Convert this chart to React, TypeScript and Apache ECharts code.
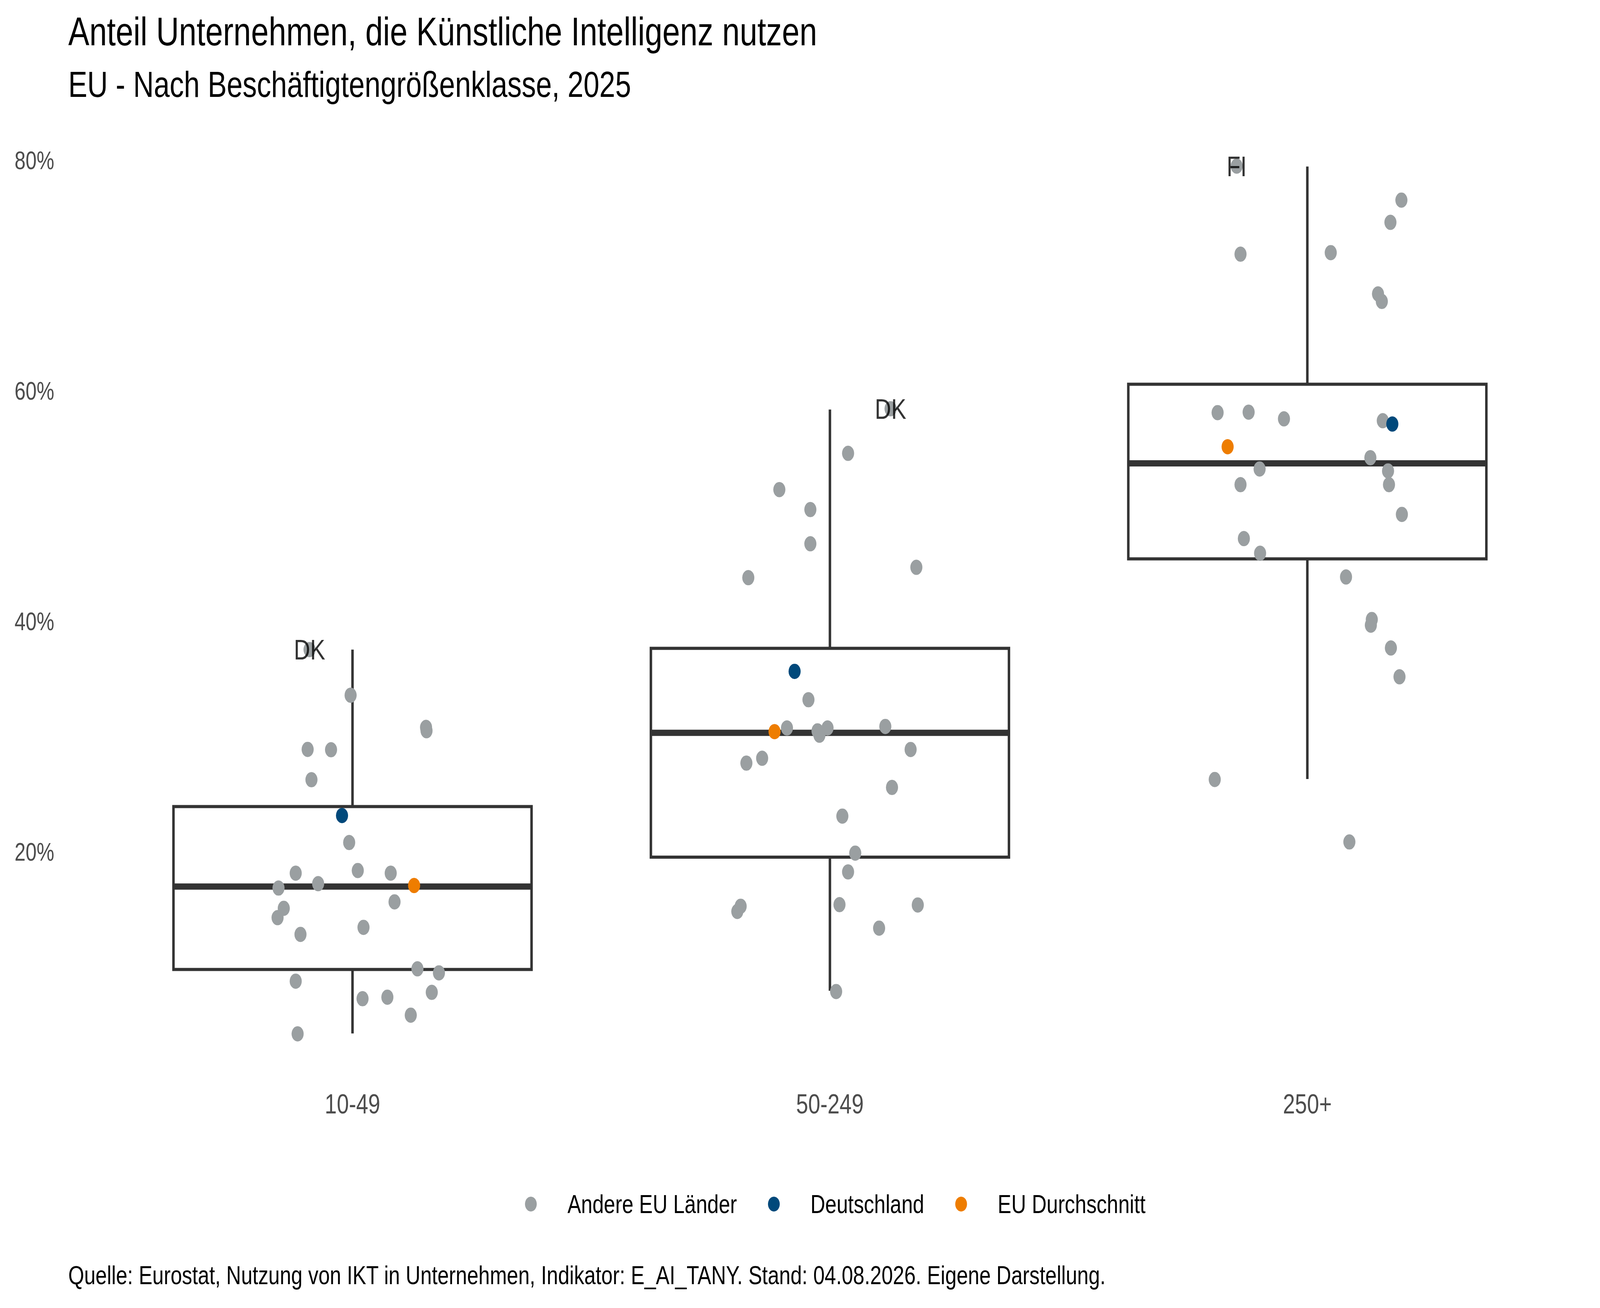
import React, { useEffect, useRef, useState } from "react";
import * as echarts from "echarts";

const W = 5160;
const H = 3348;
const FONT = "Liberation Sans, Arial, Helvetica, sans-serif";

// ---- data (percent) ----
const categories = ["10-49", "50-249", "250+"];

// box statistics
const boxMin = [4.26, 7.97, 26.34];
const boxQ1 = [9.81, 19.56, 45.44];
const boxMedian = [17.01, 30.35, 53.73];
const boxQ3 = [23.95, 37.68, 60.59];
const boxMax = [37.57, 58.4, 79.48];

// other EU countries: values and horizontal jitter (category units)
const other1049 = [37.57, 33.61, 30.82, 30.53, 28.91, 28.88, 26.28, 20.83, 18.17, 18.4, 18.17, 17.26, 16.88, 15.68, 15.12, 14.31, 13.47, 12.86, 9.87, 9.52, 8.8, 7.83, 7.28, 7.41, 5.85, 4.23];
const jitter1049 = [-0.09, -0.004, 0.154, 0.155, -0.094, -0.045, -0.086, -0.007, -0.119, 0.011, 0.08, -0.072, -0.155, 0.088, -0.144, -0.157, 0.023, -0.109, 0.136, 0.181, -0.119, 0.166, 0.021, 0.073, 0.122, -0.115];

const other50249 = [58.47, 54.6, 51.45, 49.72, 46.75, 44.71, 43.81, 33.22, 30.77, 30.9, 30.52, 30.77, 30.14, 28.9, 28.14, 27.72, 25.61, 23.12, 19.91, 18.28, 15.3, 14.85, 15.44, 15.41, 13.4, 7.9];
const jitter50249 = [0.127, 0.038, -0.106, -0.041, -0.041, 0.181, -0.171, -0.045, -0.09, 0.116, -0.026, -0.005, -0.022, 0.169, -0.142, -0.175, 0.13, 0.026, 0.053, 0.038, -0.187, -0.194, 0.02, 0.184, 0.103, 0.013];

const other250 = [79.52, 76.57, 74.64, 71.88, 72.01, 68.43, 67.78, 58.13, 58.17, 57.59, 57.43, 54.22, 53.24, 53.07, 51.88, 51.88, 49.3, 47.2, 45.93, 43.87, 40.18, 39.69, 37.71, 35.21, 26.3, 20.88];
const jitter250 = [-0.148, 0.197, 0.174, -0.14, 0.049, 0.148, 0.156, -0.188, -0.123, -0.049, 0.158, 0.132, -0.1, 0.169, -0.14, 0.171, 0.198, -0.133, -0.099, 0.081, 0.135, 0.133, 0.175, 0.193, -0.194, 0.088];

// Germany and EU average
const deValues = [23.17, 35.68, 57.14];
const deJitter = [-0.022, -0.074, 0.178];
const euValues = [17.1, 30.45, 55.17];
const euJitter = [0.129, -0.116, -0.167];

// labelled countries (maximum per class)
const labelText = ["DK", "DK", "FI"];
const labelValues = [37.57, 58.47, 79.52];
const labelJitter = [-0.09, 0.127, -0.148];

const yTicks = [0, 20, 40, 60, 80];

const GRAY = "#9A9FA1";
const NAVY = "#00497B";
const ORANGE = "#EE7D00";
const BOX = "#333333";
const BOX_WIDTH = 0.75;

function buildOption() {
  const otherGroups: [number[], number[]][] = [
    [other1049, jitter1049],
    [other50249, jitter50249],
    [other250, jitter250],
  ];
  const otherData: number[][] = [];
  otherGroups.forEach(([vals, jit], ci) => {
    vals.forEach((v, i) => otherData.push([ci + 1 + jit[i], v]));
  });
  const deData = deValues.map((v, i) => [i + 1 + deJitter[i], v]);
  const euData = euValues.map((v, i) => [i + 1 + euJitter[i], v]);
  const labelData = labelValues.map((v, i) => ({
    name: labelText[i],
    value: [i + 1 + labelJitter[i], v],
  }));
  const boxData = categories.map((_, i) => [
    i + 1,
    boxMin[i],
    boxQ1[i],
    boxMedian[i],
    boxQ3[i],
    boxMax[i],
  ]);

  const pointSeries = (name: string, color: string, data: number[][]) => ({
    type: "scatter",
    name,
    xAxisIndex: 1,
    symbol: "circle",
    symbolSize: 39,
    clip: false,
    silent: true,
    itemStyle: { color, opacity: 1 },
    data,
  });

  return {
    animation: false,
    backgroundColor: "#ffffff",
    grid: { left: 367, right: 174, top: 411, bottom: 577, containLabel: false },
    xAxis: [
      {
        type: "category",
        data: categories,
        boundaryGap: true,
        axisLine: { show: false },
        axisTick: { show: false },
        splitLine: { show: false },
        axisLabel: {
          fontFamily: FONT,
          fontSize: 70,
          color: "#4D4D4D",
          margin: 55,
          verticalAlign: "middle",
        },
      },
      {
        type: "value",
        min: 0.5,
        max: 3.5,
        show: false,
        splitLine: { show: false },
      },
    ],
    yAxis: {
      type: "value",
      min: yTicks[0],
      max: yTicks[yTicks.length - 1],
      interval: 20,
      axisLine: { show: false },
      axisTick: { show: false },
      splitLine: { show: false },
      axisLabel: {
        fontFamily: FONT,
        fontSize: 64,
        color: "#4D4D4D",
        margin: 192,
        formatter: (v: number) => (v === 0 ? "" : v + "%"),
      },
    },
    legend: {
      data: ["Andere EU Länder", "Deutschland", "EU Durchschnitt"],
      left: 1688,
      top: 3077 - 33,
      icon: "circle",
      itemWidth: 226,
      itemHeight: 38,
      itemGap: 100,
      selectedMode: false,
      textStyle: { fontFamily: FONT, fontSize: 66, color: "#000000" },
    },
    graphic: [
      {
        type: "text",
        x: 220,
        y: 81,
        style: {
          text: "Anteil Unternehmen, die Künstliche Intelligenz nutzen",
          fontFamily: FONT,
          fontSize: 102,
          fill: "#000000",
          verticalAlign: "middle",
        },
      },
      {
        type: "text",
        x: 220,
        y: 216,
        style: {
          text: "EU - Nach Beschäftigtengrößenklasse, 2025",
          fontFamily: FONT,
          fontSize: 92,
          fill: "#000000",
          verticalAlign: "middle",
        },
      },
      {
        type: "text",
        x: 220,
        y: 3264,
        style: {
          text: "Quelle: Eurostat, Nutzung von IKT in Unternehmen, Indikator: E_AI_TANY. Stand: 04.08.2026. Eigene Darstellung.",
          fontFamily: FONT,
          fontSize: 66,
          fill: "#000000",
          verticalAlign: "middle",
        },
      },
    ],
    series: [
      {
        type: "custom",
        name: "box",
        xAxisIndex: 1,
        yAxisIndex: 0,
        silent: true,
        clip: false,
        encode: { x: 0, y: [1, 2, 3, 4, 5] },
        data: boxData,
        renderItem: (params: any, api: any) => {
          const x = api.value(0);
          const lo = api.coord([x, api.value(1)]);
          const q1 = api.coord([x, api.value(2)]);
          const med = api.coord([x, api.value(3)]);
          const q3 = api.coord([x, api.value(4)]);
          const hi = api.coord([x, api.value(5)]);
          const w = api.size([BOX_WIDTH, 0])[0];
          const stroke = { stroke: BOX, lineWidth: 8, fill: "none" };
          return {
            type: "group",
            children: [
              { type: "line", shape: { x1: q3[0], y1: q3[1], x2: hi[0], y2: hi[1] }, style: stroke },
              { type: "line", shape: { x1: lo[0], y1: lo[1], x2: q1[0], y2: q1[1] }, style: stroke },
              {
                type: "rect",
                shape: { x: q1[0] - w / 2, y: q3[1], width: w, height: q1[1] - q3[1] },
                style: { stroke: BOX, lineWidth: 8, fill: "#ffffff" },
              },
              {
                type: "line",
                shape: { x1: med[0] - w / 2, y1: med[1], x2: med[0] + w / 2, y2: med[1] },
                style: { stroke: BOX, lineWidth: 16 },
              },
            ],
          };
        },
      },
      pointSeries("Andere EU Länder", GRAY, otherData),
      pointSeries("Deutschland", NAVY, deData),
      pointSeries("EU Durchschnitt", ORANGE, euData),
      {
        type: "scatter",
        name: "labels",
        xAxisIndex: 1,
        symbol: "circle",
        symbolSize: 2,
        clip: false,
        silent: true,
        itemStyle: { color: "rgba(0,0,0,0)" },
        label: {
          show: true,
          position: "inside",
          formatter: "{b}",
          fontFamily: FONT,
          fontSize: 73,
          color: "#000000",
        },
        data: labelData,
      },
    ],
  };
}

export default function App() {
  const ref = useRef<HTMLDivElement>(null);
  const [dims] = useState(() => ({
    iw: window.innerWidth || W,
    ih: window.innerHeight || H,
  }));
  const kx = dims.iw / W;
  const ky = dims.ih / H;
  useEffect(() => {
    document.body.style.margin = "0";
    document.body.style.overflow = "hidden";
    const chart = echarts.init(ref.current as HTMLDivElement, null, {
      renderer: "svg",
      width: W,
      height: H,
    });
    chart.setOption(buildOption() as any);
    return () => chart.dispose();
  }, []);
  return (
    <div style={{ width: dims.iw, height: dims.ih, overflow: "hidden", background: "#fff" }}>
      <div
        ref={ref}
        style={{
          width: W,
          height: H,
          transform: `scale(${kx}, ${ky})`,
          transformOrigin: "0 0",
        }}
      />
    </div>
  );
}
